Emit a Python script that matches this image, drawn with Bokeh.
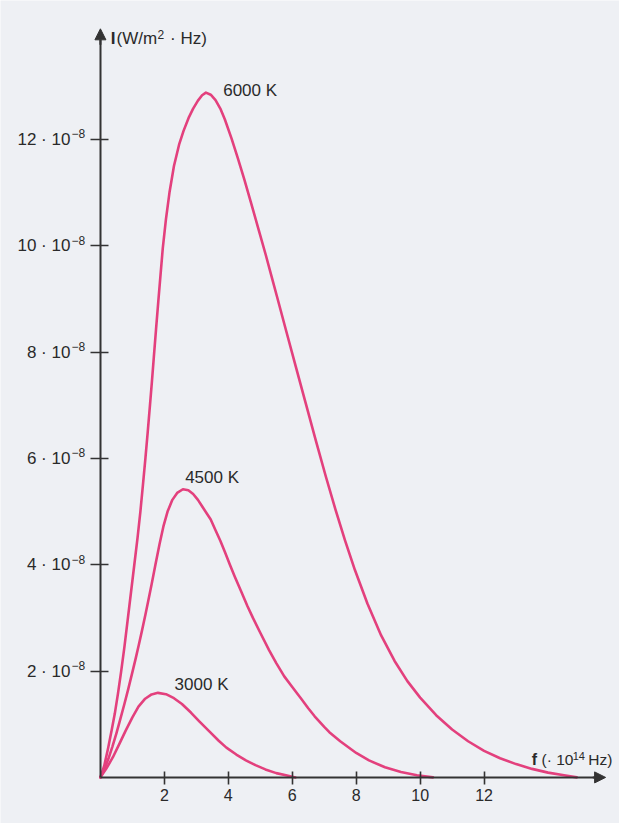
from bokeh.plotting import figure
from bokeh.models import Label, Arrow, NormalHead, FixedTicker
from bokeh.core.properties import value
from bokeh.embed import file_html
from bokeh.resources import INLINE

# ---- data ----
temps = ["3000 K", "4500 K", "6000 K"]

f_3000 = [0, 0.18, 0.39, 0.6, 0.79, 1.0, 1.19, 1.4, 1.6, 1.8, 2.05, 2.3, 2.55, 2.83, 3.1, 3.43,
          3.7, 3.94, 4.25, 4.55, 4.85, 5.16, 5.5, 5.87, 6.1]
i_3000 = [0, 0.16, 0.38, 0.64, 0.88, 1.13, 1.33, 1.48, 1.56, 1.59, 1.565, 1.49, 1.38, 1.22, 1.05, 0.85,
          0.69, 0.56, 0.43, 0.32, 0.23, 0.15, 0.08, 0.03, 0.0]

f_4500 = [0, 0.12, 0.25, 0.37, 0.5, 0.62, 0.75, 0.87, 1.0, 1.1, 1.2, 1.3, 1.41, 1.5, 1.6, 1.72,
          1.85, 1.97, 2.1, 2.25, 2.4, 2.58, 2.75, 2.9, 3.05, 3.2, 3.45, 3.6, 3.75, 3.9, 4.05, 4.2,
          4.4, 4.6, 4.77, 5.0, 5.27, 5.5, 5.75, 6.0, 6.28, 6.5, 6.7, 7.0, 7.16, 7.5, 8.0, 8.4,
          8.9, 9.4, 9.9, 10.4]
i_4500 = [0, 0.15, 0.35, 0.57, 0.83, 1.09, 1.38, 1.66, 1.98, 2.23, 2.49, 2.76, 3.07, 3.33, 3.63, 4.0,
          4.39, 4.72, 5.0, 5.22, 5.35, 5.42, 5.4, 5.33, 5.22, 5.08, 4.85, 4.65, 4.45, 4.23, 4.0, 3.78,
          3.5, 3.22, 3.0, 2.72, 2.4, 2.15, 1.9, 1.7, 1.48, 1.3, 1.15, 0.95, 0.85, 0.68, 0.46, 0.32,
          0.19, 0.1, 0.04, 0.0]

f_6000 = [0, 0.12, 0.24, 0.35, 0.45, 0.55, 0.65, 0.75, 0.85, 0.95, 1.06, 1.16, 1.25, 1.33, 1.41,
          1.48, 1.55, 1.61, 1.67, 1.74, 1.81, 1.88, 1.95, 2.05, 2.16, 2.3, 2.46, 2.6, 2.77, 2.9,
          3.05, 3.18, 3.3, 3.45, 3.6, 3.75, 3.89, 4.1, 4.29, 4.5, 4.7, 4.95, 5.17, 5.35, 5.52, 5.8,
          6.1, 6.42, 6.74, 7.05, 7.35, 7.65, 7.96, 8.35, 8.78, 9.2, 9.6, 10.0, 10.5, 11.0, 11.5,
          12.0, 12.5, 13.0, 13.5, 14.0, 14.5, 14.9]
i_6000 = [0, 0.22, 0.55, 0.88, 1.2, 1.58, 2.0, 2.45, 2.95, 3.45, 4.0, 4.5, 5.0, 5.5, 6.02,
          6.5, 7.0, 7.44, 7.9, 8.43, 8.95, 9.45, 9.95, 10.5, 11.0, 11.5, 11.9, 12.16, 12.42, 12.58,
          12.73, 12.83, 12.88, 12.84, 12.74, 12.58, 12.38, 12.02, 11.66, 11.25, 10.83, 10.3, 9.83, 9.43,
          9.05, 8.42, 7.75, 7.04, 6.33, 5.66, 5.04, 4.46, 3.9, 3.27, 2.67, 2.19, 1.81, 1.5, 1.17, 0.9,
          0.68, 0.5, 0.36, 0.25, 0.16, 0.09, 0.04, 0.0]

x_ticks = [2, 4, 6, 8, 10, 12]
x_tick_labels = ["2", "4", "6", "8", "10", "12"]
y_ticks = [2, 4, 6, 8, 10, 12]
y_tick_mantissas = ["2 · 10", "4 · 10", "6 · 10", "8 · 10", "10 · 10", "12 · 10"]
y_tick_exponent = "−8"

y_title_symbol = "I"
y_title_parts = ["(W/m", "2", "· Hz)"]
x_title_symbol = "f"
x_title_parts = ["(· 10", "14", "Hz)"]

# ---- layout ----
W, H = 619, 823
KX, KY = W / 635, H / 839   # reference-image pixels -> figure pixels
X0_PX, Y0_PX = 102.5 * KX, 792 * KY   # origin inside the figure
SX, SY = 32.8 * KX, 54.2 * KY         # pixels per unit
X_ARROW, Y_ARROW = 15.8, 14.08


def dx(ref_px):
    """reference pixel column -> data x"""
    return (ref_px * KX - X0_PX) / SX


def dy(ref_px):
    """reference pixel row -> data y"""
    return (Y0_PX - ref_px * KY) / SY


PINK = "#e3407d"
AX = "#333333"
TXT = "#2a2a2a"
BG = "#eef0f4"
FONT = "Liberation Sans"

p = figure(width=W, height=H,
           x_range=(-X0_PX / SX, (W - X0_PX) / SX),
           y_range=(-(H - Y0_PX) / SY, Y0_PX / SY),
           output_backend="svg", toolbar_location=None,
           min_border=0, min_border_left=0, min_border_right=0,
           min_border_top=0, min_border_bottom=0)
p.background_fill_color = BG
p.border_fill_color = BG
p.outline_line_color = None
p.grid.visible = False

for ax in (p.xaxis[0], p.yaxis[0]):
    ax.fixed_location = 0
    ax.axis_line_color = AX
    ax.axis_line_width = 2
    ax.major_tick_line_color = AX
    ax.major_tick_line_width = 1.6
    ax.minor_tick_line_color = None
    ax.major_label_text_color = TXT
    ax.major_label_text_font = FONT

p.xaxis.ticker = FixedTicker(ticks=x_ticks)
p.xaxis.major_label_overrides = dict(zip(x_ticks, x_tick_labels))
p.xaxis.bounds = (0, X_ARROW - 0.3)
p.xaxis.major_tick_out = 7
p.xaxis.major_tick_in = 6
p.xaxis.major_label_standoff = 5
p.xaxis.major_label_text_font_size = "16px"

p.yaxis.ticker = FixedTicker(ticks=y_ticks)
p.yaxis.major_label_overrides = dict(zip(y_ticks, y_tick_mantissas))
p.yaxis.bounds = (0, Y_ARROW - 0.2)
p.yaxis.major_tick_out = 10
p.yaxis.major_tick_in = 8
p.yaxis.major_label_standoff = 20
p.yaxis.major_label_text_font_size = "17px"

# exponent of each y tick label, raised like a superscript
sup_x = -(10 + 20 - 1) / SX
p.text(x=[sup_x] * len(y_ticks), y=[t + 5.5 / SY for t in y_ticks],
       text=[y_tick_exponent] * len(y_ticks),
       text_font=value(FONT), text_font_size="12px", text_color=TXT,
       text_baseline="middle", text_align="left")

# arrow heads
p.add_layout(Arrow(end=NormalHead(size=11, fill_color=AX, line_color=AX),
                   x_start=X_ARROW - 0.4, y_start=0, x_end=X_ARROW, y_end=0,
                   line_color=AX, line_width=2))
p.add_layout(Arrow(end=NormalHead(size=11, fill_color=AX, line_color=AX),
                   x_start=0, y_start=Y_ARROW - 0.3, x_end=0, y_end=Y_ARROW,
                   line_color=AX, line_width=2))

# curves
for fs, vals in ((f_3000, i_3000), (f_4500, i_4500), (f_6000, i_6000)):
    p.line(fs, vals, line_color=PINK, line_width=2.6, line_join="round", line_cap="round")

# curve labels
for name, lx, ly in ((temps[2], 3.84, 12.92), (temps[1], 2.65, 5.65), (temps[0], 2.32, 1.75)):
    p.add_layout(Label(x=lx, y=ly, text=name, text_font=FONT, text_font_size="17px",
                       text_color=TXT, text_baseline="middle", text_align="left"))


def lab(px, py, text, size, bold=False):
    p.add_layout(Label(x=dx(px), y=dy(py), text=text, text_font=FONT,
                       text_font_size=size, text_font_style="bold" if bold else "normal",
                       text_color=TXT, text_baseline="middle", text_align="left"))


# y axis title
lab(113, 39, y_title_symbol, "17px", bold=True)
lab(119, 39, y_title_parts[0], "17px")
lab(161, 35, y_title_parts[1], "12px")
lab(174, 39, y_title_parts[2], "17px")

# x axis title
lab(545, 774, x_title_symbol, "16px", bold=True)
lab(555, 774, x_title_parts[0], "15.5px")
lab(587, 770, x_title_parts[1], "11px")
lab(603, 774, x_title_parts[2], "15.5px")

open("out.html", "w").write(file_html(p, INLINE))
